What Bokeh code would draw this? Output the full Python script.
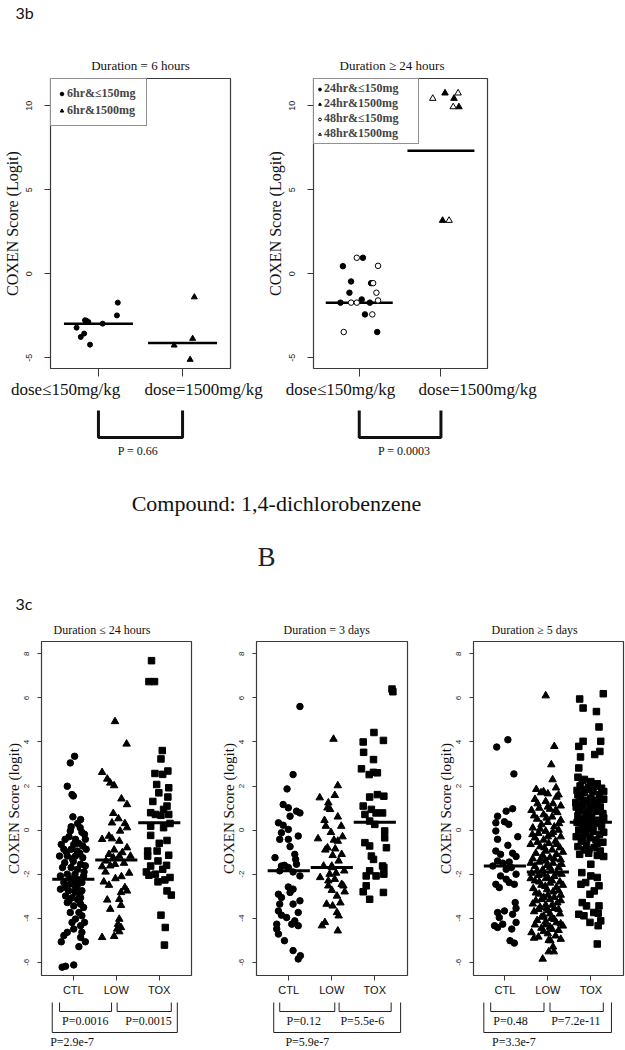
from bokeh.plotting import figure
from bokeh.layouts import column, row
from bokeh.models import Range1d, FixedTicker, LinearAxis
from bokeh.embed import file_html
from bokeh.resources import INLINE
from bokeh.core.properties import value

SERIF = "Liberation Serif"
SANS = "Liberation Sans"
HEAD = "Lato"

# ---------------- 3b data (1,4-dichlorobenzene) ----------------
p1_title = "Duration = 6 hours"
p2_title = "Duration \u2265 24 hours"
top_ticks = [1, 2]
top_tick_labels = ["dose\u2264150mg/kg", "dose=1500mg/kg"]
top_label_pos = [[0.61, 2.25], [0.77, 2.45]]
top_yticks = [-5, 0, 5, 10]

p1_low_x = [1.23, 1.22, 1.05, 0.84, 0.88, 0.86, 0.74, 0.83, 0.79, 0.90]
p1_low_y = [-1.72, -2.48, -2.97, -2.77, -2.87, -2.80, -3.21, -3.56, -3.76, -4.22]
p1_high_x = [2.14, 2.12, 1.90, 2.09]
p1_high_y = [-1.39, -3.86, -4.26, -5.11]
p1_median = [-2.97, -4.12]
p1_legend = ["6hr&\u2264150mg", "6hr&1500mg"]
p1_p = "P = 0.66"

p2_c24_x = [0.80, 1.045, 0.90, 1.145, 0.88, 1.03, 0.77, 1.13, 1.07, 1.22]
p2_c24_y = [0.45, 0.95, -0.46, -0.56, -1.13, -1.53, -1.72, -1.72, -2.42, -3.47]
p2_t24_x = [2.05, 2.16, 2.22, 2.02]
p2_t24_y = [10.75, 10.43, 9.93, 3.17]
p2_c48_x = [0.97, 1.23, 1.17, 1.21, 0.90, 0.97, 1.23, 1.16, 0.81]
p2_c48_y = [0.95, 0.47, -0.56, -1.13, -1.72, -1.72, -1.59, -2.42, -3.47]
p2_t48_x = [1.90, 2.21, 2.15, 2.10]
p2_t48_y = [10.43, 10.75, 9.93, 3.17]
p2_median = [-1.72, 7.32]
p2_legend = ["24hr&\u2264150mg", "24hr&1500mg", "48hr&\u2264150mg", "48hr&1500mg"]
p2_p = "P = 0.0003"

compound = "Compound: 1,4-dichlorobenzene"

# ---------------- 3c data ----------------
bot_ticks = [1, 2, 3]
bot_tick_labels = ["CTL", "LOW", "TOX"]
bot_yticks = [-6, -4, -2, 0, 2, 4, 6, 8]
bot_titles = ["Duration \u2264 24 hours", "Duration = 3 days", "Duration \u2265 5 days"]

p3_ctl = [(1.03, 3.35), (0.93, 3.05), (0.86, 1.99), (0.97, 1.61), (1.0, 1.55),
          (0.99, 0.6), (1.17, 0.48), (0.93, -0.04), (1.16, 0.11), (1.26, -0.19), (0.81, -0.42),
          (1.05, -0.42), (1.28, -0.42), (0.72, -0.65), (1.01, -0.65), (1.22, -0.72), (0.78, -0.87),
          (0.95, -0.87), (1.09, -0.95), (1.3, -0.87), (0.86, -1.18), (1.05, -1.18), (1.22, -1.25),
          (0.68, -1.18), (0.8, -1.48), (1.0, -1.42), (1.17, -1.55), (1.28, -1.62), (0.95, -1.7),
          (1.1, -1.78), (0.86, -2.0), (0.7, -2.08), (1.04, -2.0), (1.24, -2.08), (0.78, -2.38),
          (0.93, -2.45), (1.09, -2.52), (1.2, -2.38), (0.7, -2.68), (0.89, -2.75), (1.04, -2.82),
          (1.2, -2.75), (0.82, -2.99), (0.97, -3.07), (1.17, -3.07), (0.86, -3.29), (1.01, -3.44),
          (1.17, -3.36), (1.24, -3.51), (0.93, -3.74), (1.13, -3.74), (1.2, -3.89), (1.05, -4.04),
          (0.97, -4.19), (1.17, -4.34), (1.26, -4.19), (1.01, -4.49), (1.2, -4.64), (0.86, -4.64),
          (0.78, -4.79), (0.72, -5.07), (1.17, -4.87), (1.28, -5.07), (1.13, -5.29), (0.74, -6.22),
          (0.82, -6.18), (1.01, -6.12), (0.9, -0.3), (1.12, -0.6), (0.84, -1.0), (1.15, -1.05),
          (0.98, -1.3), (1.25, -1.9), (0.92, -2.2), (1.12, -2.25), (0.8, -2.6), (1.0, -2.3),
          (1.15, -2.9), (0.9, -3.2), (1.1, -3.15), (1.05, -2.65), (0.75, -1.7), (1.2, -0.1),
          (1.1, 0.3), (0.95, 0.15)]
p3_low = [(1.97, 4.93), (2.24, 3.91), (1.67, 2.62), (1.79, 2.32), (1.86, 2.14), (1.95, 2.02),
          (2.12, 1.42), (2.25, 1.16), (1.93, 0.76), (2.05, 0.52), (1.9, 0.33), (2.25, 0.11),
          (2.09, -0.04), (1.83, -0.27), (1.67, -0.42), (1.9, -0.39), (2.07, -0.5), (2.25, -0.8),
          (2.14, -1.02), (1.83, -1.1), (1.93, -1.25), (2.07, -1.18), (2.33, -1.18), (1.76, -1.4),
          (1.67, -1.66), (1.86, -1.62), (1.97, -1.55), (2.12, -2.11), (1.71, -2.35), (1.83, -2.5),
          (2.2, -2.61), (2.11, -2.83), (2.25, -2.76), (1.79, -3.17), (2.07, -3.14), (1.86, -3.59),
          (2.11, -3.41), (2.07, -4.04), (2.04, -4.27), (2.11, -4.42), (2.02, -4.49), (2.07, -4.61),
          (1.67, -4.87), (1.95, -4.82), (1.75, -1.9), (2.18, -1.5), (1.95, -0.9), (2.2, 0.3),
          (1.98, -2.2), (2.3, -1.95)]
p3_tox = [(2.82, 7.69), (2.76, 6.74), (2.89, 6.74), (3.07, 3.61), (3.04, 3.23), (2.9, 2.57),
          (3.08, 2.53), (3.2, 2.68), (2.94, 2.07), (3.22, 1.92), (2.99, 1.69), (3.18, 1.09),
          (3.1, 0.94), (2.8, 0.79), (2.91, 0.71), (3.04, 0.67), (3.22, 0.71), (2.8, 0.18),
          (3.1, 0.11), (2.8, -0.24), (3.18, -0.47), (2.73, -0.95), (2.95, -0.95), (2.73, -1.18),
          (3.22, -1.14), (2.97, -1.4), (2.8, -1.63), (3.17, -1.6), (3.08, -1.78), (2.76, -2.05),
          (2.91, -2.0), (3.25, -2.15), (3.13, -2.26), (2.97, -2.35), (3.18, -2.76), (3.28, -2.95),
          (3.04, -3.86), (3.14, -4.42), (3.12, -5.22), (3.2, 1.5), (2.85, 1.3), (3.0, -0.6),
          (3.25, 0.3), (2.7, -1.9)]
p3_median = [-2.23, -1.36, 0.33]
p3_pvals = ["P=0.0016", "P=0.0015", "P=2.9e-7"]

p4_ctl = [(1.26, 5.61), (1.1, 2.52), (0.96, 1.87), (0.87, 1.16), (0.99, 1.01), (1.03, 0.63),
          (1.18, 0.86), (1.26, 0.78), (0.76, 0.33), (0.87, 0.22), (0.99, 0.03), (0.83, -0.12),
          (0.79, -0.42), (0.99, -0.42), (1.22, -0.27), (1.03, -0.75), (1.14, -1.1), (0.68, -1.25),
          (1.16, -1.33), (0.83, -1.63), (0.99, -1.7), (0.79, -1.85), (1.26, -2.08), (0.99, -2.58),
          (1.1, -2.68), (0.76, -2.91), (0.83, -3.06), (1.03, -2.83), (1.26, -3.21), (1.1, -3.36),
          (0.79, -3.36), (0.76, -3.67), (0.83, -3.86), (0.95, -3.97), (1.22, -3.74), (1.14, -4.12),
          (1.07, -4.27), (1.22, -4.34), (0.72, -4.27), (0.72, -4.49), (0.76, -4.72), (0.9, -5.02),
          (1.1, -5.47), (1.22, -5.85), (1.27, -5.7), (1.1, -1.9), (0.9, -1.6), (1.18, -1.55)]
p4_low = [(2.04, 4.13), (2.14, 2.02), (1.72, 1.47), (2.07, 1.58), (1.92, 1.24), (1.9, 1.01),
          (1.96, 0.94), (2.14, 0.6), (1.83, 0.44), (1.86, 0.18), (2.22, 0.18), (1.68, -0.39),
          (2.05, -0.45), (2.14, -0.5), (1.9, -0.8), (2.08, -0.85), (2.23, -1.1), (2.02, -1.15),
          (2.16, -1.4), (1.81, -1.63), (2.0, -1.63), (2.29, -1.85), (1.73, -2.15), (1.92, -2.3),
          (2.07, -2.23), (2.23, -2.46), (1.92, -2.53), (2.0, -2.73), (2.27, -2.53), (2.12, -2.99),
          (1.88, -3.36), (2.02, -3.44), (2.12, -3.74), (2.16, -3.89), (1.84, -4.19), (1.77, -4.34),
          (2.14, -4.57), (2.0, -1.7), (1.95, -2.0), (2.25, -0.3), (1.85, -0.9), (2.1, -1.95),
          (2.3, -2.8), (1.98, -0.1), (2.2, -3.3)]
p4_tox = [(3.4, 6.4), (3.42, 6.28), (2.98, 4.43), (3.2, 4.07), (2.73, 4.0), (2.74, 3.53),
          (2.97, 3.2), (2.69, 2.78), (2.87, 2.52), (2.97, 2.62), (3.06, 2.6), (3.21, 1.54),
          (3.06, 1.61), (2.88, 1.5), (2.73, 1.09), (2.92, 0.94), (3.03, 0.78), (3.18, 0.78),
          (2.77, 0.71), (2.88, 0.41), (3.0, 0.26), (3.23, -0.04), (3.23, -0.35), (2.77, -0.57),
          (2.88, -0.72), (3.27, -0.8), (2.92, -1.18), (2.97, -1.33), (3.18, -1.63), (3.21, -1.7),
          (2.88, -1.85), (3.03, -2.08), (3.21, -2.0), (2.8, -2.08), (2.8, -2.53), (2.73, -2.8),
          (3.2, -2.83), (2.88, -3.14)]
p4_median = [-1.85, -1.70, 0.36]
p4_pvals = ["P=0.12", "P=5.5e-6", "P=5.9e-7"]

p5_ctl = [(0.81, 3.77), (1.07, 4.1), (1.21, 2.55), (1.18, 0.97), (1.03, 0.86), (0.83, 0.63),
          (0.79, 0.33), (0.99, 0.38), (1.09, 0.26), (0.79, -0.04), (1.3, -0.3), (0.83, -0.42),
          (1.07, -0.69), (0.79, -0.95), (0.9, -1.1), (1.18, -1.05), (1.26, -1.2), (0.83, -1.4),
          (1.1, -1.45), (0.72, -1.63), (1.03, -1.78), (1.26, -2.0), (0.9, -2.08), (1.03, -2.23),
          (1.1, -2.38), (0.79, -2.46), (0.87, -2.61), (1.22, -2.46), (1.24, -3.29), (0.83, -3.74),
          (0.99, -3.67), (1.18, -3.82), (1.26, -3.55), (0.87, -3.97), (0.76, -4.34), (0.83, -4.42),
          (0.95, -4.27), (1.26, -4.19), (1.16, -4.49), (1.12, -5.02), (1.22, -5.13), (0.95, -1.5),
          (1.15, -1.7)]
p5_low = [(1.95, 6.1), (2.15, 3.8), (2.08, 2.97), (2.11, 2.29), (2.19, 1.92), (1.73, 1.85),
          (1.84, 1.7), (2.0, 1.65), (2.2, 1.5), (1.7, 1.4), (1.95, 1.3), (2.12, 1.2), (2.3, 1.1),
          (1.8, 1.0), (2.05, 0.95), (1.62, 0.9), (2.22, 0.8), (1.9, 0.7), (2.1, 0.6), (1.75, 0.5),
          (2.3, 0.45), (2.0, 0.35), (1.85, 0.25), (2.15, 0.15), (1.65, 0.1), (2.25, 0.0),
          (1.95, -0.05), (1.78, -0.15), (2.08, -0.2), (2.3, -0.3), (1.7, -0.35), (1.9, -0.45),
          (2.18, -0.5), (2.02, -0.6), (1.6, -0.65), (1.82, -0.75), (2.28, -0.8), (2.1, -0.9),
          (1.95, -0.95), (1.72, -1.05), (2.2, -1.1), (1.88, -1.15), (2.05, -1.25), (1.65, -1.3),
          (2.3, -1.35), (1.8, -1.45), (2.12, -1.5), (1.98, -1.6), (1.7, -1.65), (2.25, -1.7),
          (1.88, -1.8), (2.08, -1.85), (1.62, -1.95), (2.32, -2.0), (1.78, -2.05), (2.15, -2.1),
          (1.95, -2.2), (1.7, -2.3), (2.28, -2.35), (2.05, -2.4), (1.85, -2.5), (2.2, -2.6),
          (1.66, -2.65), (1.98, -2.7), (2.12, -2.8), (1.8, -2.9), (2.3, -2.95), (1.9, -3.05),
          (2.05, -3.15), (1.72, -3.2), (2.22, -3.3), (1.95, -3.4), (1.82, -3.5), (2.15, -3.55),
          (2.0, -3.65), (1.68, -3.7), (2.28, -3.8), (1.9, -3.9), (2.08, -4.0), (1.75, -4.1),
          (2.2, -4.2), (1.95, -4.3), (2.35, -4.35), (1.85, -4.45), (2.1, -4.5), (1.62, -4.65),
          (2.0, -4.7), (2.18, -4.8), (1.78, -4.85), (2.3, -4.95), (2.02, -5.0), (2.12, -5.3),
          (1.88, -5.85), (2.02, -5.52), (2.14, -5.52), (2.06, -5.02),
          (1.9, 1.75), (2.25, 1.6), (1.76, 1.2), (2.0, 1.05), (2.18, 0.9), (1.68, 0.65),
          (1.97, 0.55), (2.26, 0.3), (1.82, 0.05), (2.12, -0.1), (1.64, -0.2), (2.0, -0.3),
          (2.2, -0.65), (1.76, -0.55), (1.92, -0.8), (2.35, -1.0), (1.84, -1.3), (2.15, -1.3),
          (1.95, -1.4), (1.6, -1.5), (2.05, -1.7), (2.32, -1.55), (1.75, -1.85), (2.2, -1.95),
          (1.9, -2.0), (2.0, -2.15), (1.6, -2.2), (2.1, -2.3), (1.8, -2.35), (2.35, -2.5),
          (1.94, -2.55), (2.25, -2.75), (1.72, -2.85), (2.0, -2.95), (2.15, -3.05), (1.85, -3.15),
          (2.3, -3.2), (1.65, -3.35), (2.1, -3.4), (1.98, -3.55), (2.25, -3.6), (1.78, -3.6),
          (2.05, -3.8), (1.85, -3.95), (2.15, -4.05), (1.95, -4.15), (2.3, -4.25), (1.7, -4.3),
          (2.05, -4.4), (1.9, -4.6), (2.25, -4.55), (1.68, -4.9)]
p5_tox = [(3.29, 6.19), (2.74, 5.95), (2.82, 5.54), (3.13, 5.38), (3.19, 4.68), (3.23, 4.03),
          (2.82, 4.03), (3.21, 3.57), (2.72, 3.8), (3.09, 3.43), (2.76, 3.32), (2.72, 2.82),
          (2.7, 2.4), (2.85, 2.3), (3.0, 2.2), (3.15, 2.1), (2.75, 2.0), (2.95, 1.95), (3.25, 1.9),
          (2.68, 1.8), (3.05, 1.75), (2.85, 1.7), (3.2, 1.6), (2.75, 1.5), (3.0, 1.45), (3.3, 1.4),
          (2.9, 1.3), (2.65, 1.25), (3.1, 1.2), (2.8, 1.1), (3.22, 1.05), (2.97, 1.0), (2.72, 0.9),
          (3.12, 0.85), (2.88, 0.8), (3.28, 0.75), (2.7, 0.65), (3.02, 0.6), (2.85, 0.5),
          (3.18, 0.45), (2.95, 0.4), (2.68, 0.35), (3.1, 0.3), (2.8, 0.2), (3.25, 0.15),
          (2.92, 0.1), (2.72, 0.0), (3.05, -0.05), (2.86, -0.15), (3.2, -0.2), (2.66, -0.3),
          (2.98, -0.35), (3.12, -0.45), (2.78, -0.5), (3.28, -0.55), (2.9, -0.65), (2.7, -0.75),
          (3.08, -0.8), (2.85, -0.9), (3.22, -0.95), (2.95, -1.05), (2.74, -1.1), (3.15, -1.15),
          (2.8, 2.25), (3.1, 2.0), (2.9, 1.85), (3.3, 1.75), (2.7, 1.6), (3.15, 1.35),
          (2.82, 1.35), (3.05, 1.1), (2.66, 1.05), (2.95, 0.7), (3.3, 0.55), (2.76, 0.45),
          (3.05, 0.2), (2.88, -0.05), (3.3, -0.1), (2.8, -0.35), (3.15, -0.6), (2.95, -0.9),
          (3.3, -1.2), (3.0, -1.55), (2.79, -1.93), (3.0, -2.08), (3.15, -2.15), (2.88, -2.38),
          (2.77, -2.46), (3.19, -2.53), (3.08, -2.76), (2.98, -2.91), (2.8, -3.29), (2.9, -3.44),
          (3.19, -3.44), (2.72, -3.82), (2.84, -3.89), (3.07, -3.74), (3.17, -3.77), (2.98, -4.19),
          (3.23, -4.12), (3.17, -4.34), (3.15, -5.17)]
p5_median = [-1.63, -1.90, 0.36]
p5_pvals = ["P=0.48", "P=7.2e-11", "P=3.3e-7"]

# bracket geometry (x in group units, y in page pixels of the bracket strip)
top_bracket_x = [[1.0, 2.0], [1.0, 2.0]]
top_ptext_x = [1.47, 1.55]
bot_inner1_x = [[0.68, 1.89], [0.79, 2.07], [0.67, 1.91]]
bot_inner2_x = [[2.02, 3.28], [2.17, 3.38], [2.05, 3.29]]
bot_outer_x = [[0.51, 3.42], [0.65, 3.60], [0.51, 3.48]]
bot_ptext_x = [[1.28, 2.75, 0.97], [1.35, 2.71, 1.43], [1.13, 2.65, 1.21]]


def base_fig(w, h, xr, yr, bl, br, bt, bb, axes=True):
    kw = dict(width=w, height=h, x_range=xr, y_range=yr,
              min_border_left=bl, min_border_right=br, min_border_top=bt, min_border_bottom=bb,
              output_backend="svg", toolbar_location=None)
    if not axes:
        kw.update(x_axis_location=None, y_axis_location=None)
    p = figure(**kw)
    p.grid.visible = False
    p.background_fill_color = "white"
    p.border_fill_color = "white"
    if not axes:
        p.outline_line_color = None
    return p


def style_axes(p, xticks, xlabels, yticks, ylabel, xfont, xsize, xtick_out, xstand,
               ysize, ytick_out, ystand, ylab_size, ylab_stand):
    p.outline_line_color = "#3a3a3a"
    p.outline_line_width = 1.2
    xa = p.xaxis[0]
    xa.ticker = FixedTicker(ticks=xticks)
    xa.major_label_overrides = {t: l for t, l in zip(xticks, xlabels)}
    xa.axis_line_color = None
    xa.minor_tick_line_color = None
    xa.major_tick_in = 0
    xa.major_tick_out = xtick_out
    xa.major_tick_line_color = "#3a3a3a"
    xa.major_label_standoff = xstand
    xa.major_label_text_font = xfont
    xa.major_label_text_font_size = xsize
    xa.major_label_text_color = "#111111"
    ya = p.yaxis[0]
    ya.ticker = FixedTicker(ticks=yticks)
    ya.major_label_overrides = {t: str(t) for t in yticks}
    ya.major_label_orientation = "vertical"
    ya.axis_line_color = None
    ya.minor_tick_line_color = None
    ya.major_tick_in = 0
    ya.major_tick_out = ytick_out
    ya.major_tick_line_color = "#3a3a3a"
    ya.major_label_standoff = ystand
    ya.major_label_text_font = SANS
    ya.major_label_text_font_size = ysize
    ya.major_label_text_color = "#222222"
    ya.axis_label = ylabel
    ya.axis_label_text_font = SERIF
    ya.axis_label_text_font_style = "normal"
    ya.axis_label_text_font_size = ylab_size
    ya.axis_label_text_color = "#111111"
    ya.axis_label_standoff = ylab_stand


def set_title(p, text, size, align, offset, standoff):
    p.title.text = text
    p.title.text_font = SERIF
    p.title.text_font_style = "normal"
    p.title.text_font_size = size
    p.title.text_color = "#111111"
    p.title.align = align
    p.title.offset = offset
    p.title.standoff = standoff


def style_legend(p, padding, glyph_w, label_h, label_w, standoff):
    lg = p.legend[0]
    lg.location = "top_left"
    lg.margin = 0
    lg.padding = padding
    lg.spacing = 0
    lg.glyph_width = glyph_w
    lg.glyph_height = label_h
    lg.label_height = label_h
    lg.label_width = label_w
    lg.label_standoff = standoff
    lg.label_text_font = SERIF
    lg.label_text_font_style = "bold"
    lg.label_text_font_size = "12px"
    lg.label_text_line_height = 1.0
    lg.border_line_color = "#222222"
    lg.border_line_width = 1
    lg.background_fill_alpha = 1.0


def top_xlabels(p, positions):
    # tick marks sit at the dose groups; the dose texts are set apart on their own axis row
    xa = p.xaxis[0]
    xa.major_label_overrides = {t: "" for t in top_ticks}
    xa.major_label_text_font_size = "1px"
    xa.major_label_standoff = 0
    lab = LinearAxis(ticker=FixedTicker(ticks=positions),
                     major_label_overrides={pos: l for pos, l in zip(positions, top_tick_labels)})
    lab.axis_line_color = None
    lab.major_tick_line_color = None
    lab.minor_tick_line_color = None
    lab.major_tick_in = 0
    lab.major_tick_out = 0
    lab.major_label_standoff = 3
    lab.major_label_text_font = SERIF
    lab.major_label_text_font_size = "17px"
    lab.major_label_text_color = "#111111"
    p.add_layout(lab, "below")


# ---------------- header "3b" ----------------
hdr = base_fig(625, 38, Range1d(0, 625), Range1d(38, 0), 0, 0, 0, 0, axes=False)
hdr.text(x=[15], y=[12], text=["3b"], text_font=value(HEAD), text_font_size="16px",
         text_align="left", text_baseline="middle", text_color="#111111")

# ---------------- panel 1 ----------------
top_yr = (-5.64, 11.62)
fig1 = base_fig(263, 366, Range1d(0.43, 2.57), Range1d(*top_yr), 48, 33, 40, 36)
style_axes(fig1, top_ticks, top_tick_labels, top_yticks, "COXEN Score (Logit)", SERIF, "15px",
           8, 5, "9px", 6, 12, "16px", 3)
top_xlabels(fig1, top_label_pos[0])
set_title(fig1, p1_title, "13px", "center", 0, 12)
fig1.segment(x0=[t - 0.41 for t in top_ticks], x1=[t + 0.41 for t in top_ticks],
             y0=p1_median, y1=p1_median, line_color="black", line_width=2.5)
fig1.scatter(p1_low_x, p1_low_y, marker="circle", size=5, color="black", legend_label=p1_legend[0])
fig1.scatter(p1_high_x, p1_high_y, marker="triangle", size=6, color="black", legend_label=p1_legend[1])
style_legend(fig1, 6, 9, 17, 73, 1)

# ---------------- panel 2 ----------------
fig2 = base_fig(362, 366, Range1d(0.44, 2.57), Range1d(*top_yr), 48, 138, 40, 36)
style_axes(fig2, top_ticks, top_tick_labels, top_yticks, "COXEN Score (Logit)", SERIF, "15px",
           8, 5, "9px", 6, 12, "16px", 3)
top_xlabels(fig2, top_label_pos[1])
set_title(fig2, p2_title, "13px", "left", 26, 12)
fig2.segment(x0=[t - 0.41 for t in top_ticks], x1=[t + 0.41 for t in top_ticks],
             y0=p2_median, y1=p2_median, line_color="black", line_width=2.5)
fig2.scatter(p2_c24_x, p2_c24_y, marker="circle", size=5.5, color="black", legend_label=p2_legend[0])
fig2.scatter(p2_t24_x, p2_t24_y, marker="triangle", size=6.5, color="black", legend_label=p2_legend[1])
fig2.scatter(p2_c48_x, p2_c48_y, marker="circle", size=5.5, fill_color="white", line_color="black",
             line_width=1, legend_label=p2_legend[2])
fig2.scatter(p2_t48_x, p2_t48_y, marker="triangle", size=6.5, fill_color="white", line_color="black",
             line_width=1, legend_label=p2_legend[3])
style_legend(fig2, 2, 7, 14, 92, 1)


# ---------------- top brackets ----------------
def top_bracket(fig, w, bl, br, bx, px, ptxt):
    b = base_fig(w, 61, fig.x_range, Range1d(465, 404), bl, br, 0, 0, axes=False)
    b.multi_line(xs=[[bx[0], bx[0], bx[1], bx[1]]], ys=[[410, 437, 437, 410]],
                 line_color="#111111", line_width=3)
    b.text(x=[px], y=[450], text=[ptxt], text_font=value(SERIF), text_font_size="12px",
           text_align="center", text_baseline="middle", text_color="#111111")
    return b


br1 = top_bracket(fig1, 263, 48, 33, top_bracket_x[0], top_ptext_x[0], p1_p)
br2 = top_bracket(fig2, 362, 48, 138, top_bracket_x[1], top_ptext_x[1], p2_p)

# ---------------- caption ----------------
cap = base_fig(625, 150, Range1d(0, 625), Range1d(615, 465), 0, 0, 0, 0, axes=False)
cap.text(x=[276], y=[503], text=[compound], text_font=value(SERIF), text_font_size="22px",
         text_align="center", text_baseline="middle", text_color="#111111")
cap.text(x=[266], y=[556], text=["B"], text_font=value(SERIF), text_font_size="27px",
         text_align="center", text_baseline="middle", text_color="#222222")
cap.text(x=[15], y=[603], text=["3c"], text_font=value(HEAD), text_font_size="16px",
         text_align="left", text_baseline="middle", text_color="#111111")

# ---------------- bottom panels ----------------
bot_yr = (-6.6, 8.56)
bot_specs = [
    dict(w=214, bl=41, br=23, xr=(0.26, 3.75), data=(p3_ctl, p3_low, p3_tox), med=p3_median,
         title_off=12, p=p3_pvals, i=0),
    dict(w=216, bl=42, br=23, xr=(0.25, 3.76), data=(p4_ctl, p4_low, p4_tox), med=p4_median,
         title_off=27, p=p4_pvals, i=1),
    dict(w=195, bl=43, br=2, xr=(0.27, 3.76), data=(p5_ctl, p5_low, p5_tox), med=p5_median,
         title_off=18, p=p5_pvals, i=2),
]

cols = []
for s in bot_specs:
    f = base_fig(s["w"], 383, Range1d(*s["xr"]), Range1d(*bot_yr), s["bl"], s["br"], 26, 22)
    style_axes(f, bot_ticks, bot_tick_labels, bot_yticks, "COXEN Score (logit)", SANS, "11px",
               5, 3, "8px", 4, 8, "15px", 0)
    set_title(f, bot_titles[s["i"]], "12px", "left", s["title_off"], 10)
    ctl, low, tox = s["data"]
    f.scatter([d[0] for d in ctl], [d[1] for d in ctl], marker="circle", size=6.5, color="black")
    f.scatter([d[0] for d in low], [d[1] for d in low], marker="triangle", size=7.5, color="black")
    f.scatter([d[0] for d in tox], [d[1] for d in tox], marker="square", size=6.5, color="black")
    f.segment(x0=[t - 0.49 for t in bot_ticks], x1=[t + 0.49 for t in bot_ticks],
              y0=s["med"], y1=s["med"], line_color="black", line_width=3)

    b = base_fig(s["w"], 52, f.x_range, Range1d(1050, 998), s["bl"], s["br"], 0, 0, axes=False)
    i = s["i"]
    a1, a2 = bot_inner1_x[i]
    c1, c2 = bot_inner2_x[i]
    o1, o2 = bot_outer_x[i]
    b.multi_line(xs=[[a1, a1, a2, a2], [c1, c1, c2, c2], [o1, o1, o2, o2]],
                 ys=[[1002, 1011, 1011, 1002], [1002, 1011, 1011, 1002], [1002, 1032, 1032, 1002]],
                 line_color="#222222", line_width=1)
    b.text(x=bot_ptext_x[i], y=[1020, 1020, 1041], text=s["p"], text_font=value(SERIF),
           text_font_size="12px", text_align="center", text_baseline="middle", text_color="#111111")
    cols.append(column(f, b))

top = row(column(fig1, br1), column(fig2, br2))
bottom = row(*cols)
layout = column(hdr, top, cap, bottom)

open("out.html", "w").write(file_html(layout, INLINE))
